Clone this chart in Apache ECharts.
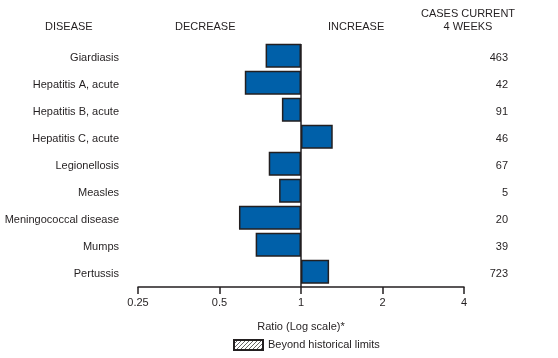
<!DOCTYPE html>
<html>
<head>
<meta charset="utf-8">
<script src="https://cdn.jsdelivr.net/npm/echarts@6/dist/echarts.min.js"></script>
<style>html,body{margin:0;padding:0;background:#fff}#c{width:558px;height:358px}</style>
</head>
<body>
<div id="c"></div>
<script>
const diseases = ["Giardiasis","Hepatitis A, acute","Hepatitis B, acute","Hepatitis C, acute","Legionellosis","Measles","Meningococcal disease","Mumps","Pertussis"];
const ratios = [0.74, 0.62, 0.85, 1.31, 0.76, 0.83, 0.59, 0.68, 1.27];
const cases = [463, 42, 91, 46, 67, 5, 20, 39, 723];
const tickValues = [0.25, 0.5, 1, 2, 4];

const FONT = "Liberation Sans";
const TXT = "#231f20";

// hatch pattern for legend
const pc = document.createElement('canvas');
pc.width = 4; pc.height = 4;
const g = pc.getContext('2d');
g.fillStyle = '#fff'; g.fillRect(0,0,4,4);
g.strokeStyle = '#666'; g.lineWidth = 1;
g.beginPath(); g.moveTo(0,4); g.lineTo(4,0); g.moveTo(-1,1); g.lineTo(1,-1); g.moveTo(3,5); g.lineTo(5,3); g.stroke();

const chart = echarts.init(document.getElementById('c'), null, {renderer:'canvas'});
chart.setOption({
  animation: false,
  textStyle: {fontFamily: FONT, color: TXT},
  grid: {left: 138, right: 94, top: 44, bottom: 71},
  legend: {
    left: 228, top: 334, itemWidth: 29, itemHeight: 10, itemGap: 6, icon: 'rect',
    data: ['Beyond historical limits'],
    textStyle: {fontFamily: FONT, fontSize: 11, color: TXT},
    selectedMode: false
  },
  xAxis: {
    type: 'log', logBase: 2, min: 0.25, max: 4,
    axisLine: {show: true, lineStyle: {color: '#231f20', width: 1.5}},
    axisTick: {show: true, length: 7, lineStyle: {color: '#231f20', width: 1.5}},
    axisLabel: {fontSize: 11, color: TXT, margin: 10, fontFamily: FONT,
      formatter: v => { const t = tickValues.find(x => Math.abs(x - v) < 1e-6); return t === undefined ? '' : String(t); }},
    splitLine: {show: false},
    name: 'Ratio (Log scale)*', nameLocation: 'middle', nameGap: 34,
    nameTextStyle: {fontSize: 11, color: TXT, fontFamily: FONT}
  },
  yAxis: [{
    type: 'category', data: diseases, inverse: true,
    axisLine: {show: false}, axisTick: {show: false},
    axisLabel: {fontSize: 11, color: TXT, margin: 19, fontFamily: FONT}
  },{
    type: 'category', data: cases.map(String), inverse: true, position: 'right',
    axisLine: {show: false}, axisTick: {show: false},
    axisLabel: {fontSize: 11, color: TXT, margin: 44, align: 'right', fontFamily: FONT}
  }],
  series: [{
    type: 'bar', data: ratios, barWidth: 24,
    itemStyle: {color: '#0060a9', borderColor: '#231f20', borderWidth: 1.5},
    markLine: {
      silent: true, symbol: 'none', label: {show: false},
      lineStyle: {color: '#231f20', width: 1.5, type: 'solid'},
      data: [{xAxis: 1}]
    }
  },{
    name: 'Beyond historical limits', type: 'bar', data: [],
    itemStyle: {color: {image: pc, repeat: 'repeat'}, borderColor: '#231f20', borderWidth: 1}
  }],
  graphic: [
    {type:'text', left: 45, top: 21, style:{text:'DISEASE', font:'11px '+FONT, fill:TXT}},
    {type:'text', left: 175, top: 21, style:{text:'DECREASE', font:'11px '+FONT, fill:TXT}},
    {type:'text', left: 328, top: 21, style:{text:'INCREASE', font:'11px '+FONT, fill:TXT}},
    {type:'text', x: 468, y: 8, style:{text:'CASES CURRENT', font:'11px '+FONT, fill:TXT, align:'center'}},
    {type:'text', x: 468, y: 21, style:{text:'4 WEEKS', font:'11px '+FONT, fill:TXT, align:'center'}}
  ]
});
</script>
</body>
</html>
